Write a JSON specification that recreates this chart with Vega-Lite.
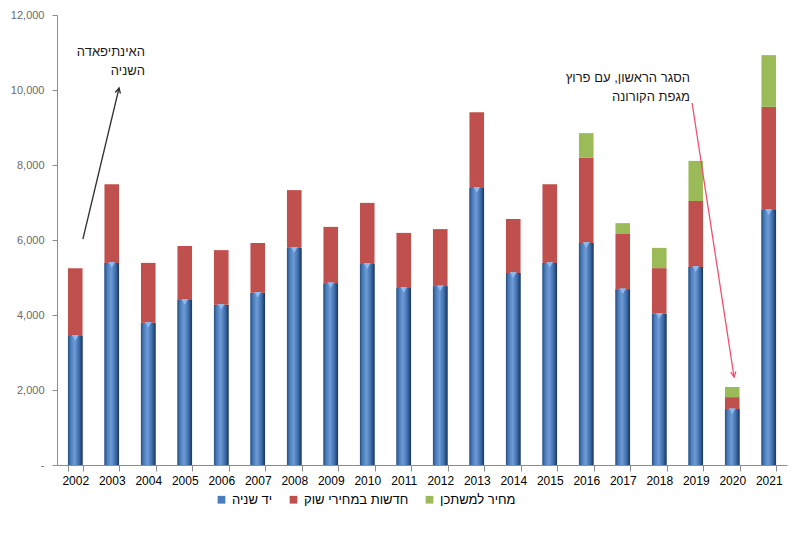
{
  "$schema": "https://vega.github.io/schema/vega-lite/v6.json",
  "width": 730,
  "height": 450,
  "autosize": {"type": "none"},
  "padding": {"left": 57, "top": 15, "right": 13, "bottom": 68},
  "background": "white",
  "config": {
    "view": {"stroke": null},
    "font": "Liberation Sans"
  },
  "datasets": {
    "bars": [
      {"year": "2002", "series": "יד שניה", "o": 1, "value": 3440},
      {"year": "2002", "series": "חדשות במחירי שוק", "o": 2, "value": 1810},
      {"year": "2003", "series": "יד שניה", "o": 1, "value": 5390},
      {"year": "2003", "series": "חדשות במחירי שוק", "o": 2, "value": 2100},
      {"year": "2004", "series": "יד שניה", "o": 1, "value": 3790},
      {"year": "2004", "series": "חדשות במחירי שוק", "o": 2, "value": 1600},
      {"year": "2005", "series": "יד שניה", "o": 1, "value": 4400},
      {"year": "2005", "series": "חדשות במחירי שוק", "o": 2, "value": 1440},
      {"year": "2006", "series": "יד שניה", "o": 1, "value": 4270},
      {"year": "2006", "series": "חדשות במחירי שוק", "o": 2, "value": 1460},
      {"year": "2007", "series": "יד שניה", "o": 1, "value": 4590},
      {"year": "2007", "series": "חדשות במחירי שוק", "o": 2, "value": 1330},
      {"year": "2008", "series": "יד שניה", "o": 1, "value": 5790},
      {"year": "2008", "series": "חדשות במחירי שוק", "o": 2, "value": 1540},
      {"year": "2009", "series": "יד שניה", "o": 1, "value": 4850},
      {"year": "2009", "series": "חדשות במחירי שוק", "o": 2, "value": 1500},
      {"year": "2010", "series": "יד שניה", "o": 1, "value": 5360},
      {"year": "2010", "series": "חדשות במחירי שוק", "o": 2, "value": 1630},
      {"year": "2011", "series": "יד שניה", "o": 1, "value": 4720},
      {"year": "2011", "series": "חדשות במחירי שוק", "o": 2, "value": 1470},
      {"year": "2012", "series": "יד שניה", "o": 1, "value": 4770},
      {"year": "2012", "series": "חדשות במחירי שוק", "o": 2, "value": 1520},
      {"year": "2013", "series": "יד שניה", "o": 1, "value": 7390},
      {"year": "2013", "series": "חדשות במחירי שוק", "o": 2, "value": 2020},
      {"year": "2014", "series": "יד שניה", "o": 1, "value": 5120},
      {"year": "2014", "series": "חדשות במחירי שוק", "o": 2, "value": 1440},
      {"year": "2015", "series": "יד שניה", "o": 1, "value": 5390},
      {"year": "2015", "series": "חדשות במחירי שוק", "o": 2, "value": 2100},
      {"year": "2016", "series": "יד שניה", "o": 1, "value": 5920},
      {"year": "2016", "series": "חדשות במחירי שוק", "o": 2, "value": 2270},
      {"year": "2016", "series": "מחיר למשתכן", "o": 3, "value": 660},
      {"year": "2017", "series": "יד שניה", "o": 1, "value": 4690},
      {"year": "2017", "series": "חדשות במחירי שוק", "o": 2, "value": 1470},
      {"year": "2017", "series": "מחיר למשתכן", "o": 3, "value": 290},
      {"year": "2018", "series": "יד שניה", "o": 1, "value": 4030},
      {"year": "2018", "series": "חדשות במחירי שוק", "o": 2, "value": 1220},
      {"year": "2018", "series": "מחיר למשתכן", "o": 3, "value": 540},
      {"year": "2019", "series": "יד שניה", "o": 1, "value": 5280},
      {"year": "2019", "series": "חדשות במחירי שוק", "o": 2, "value": 1760},
      {"year": "2019", "series": "מחיר למשתכן", "o": 3, "value": 1070},
      {"year": "2020", "series": "יד שניה", "o": 1, "value": 1490},
      {"year": "2020", "series": "חדשות במחירי שוק", "o": 2, "value": 320},
      {"year": "2020", "series": "מחיר למשתכן", "o": 3, "value": 270},
      {"year": "2021", "series": "יד שניה", "o": 1, "value": 6800},
      {"year": "2021", "series": "חדשות במחירי שוק", "o": 2, "value": 2750},
      {"year": "2021", "series": "מחיר למשתכן", "o": 3, "value": 1380}
    ],
    "notes": [
      {"nx": 2003.91, "ny": 11010, "label": "האינתיפאדה\nהשניה"},
      {"nx": 2018.84, "ny": 10320, "label": "הסגר הראשון, עם פרוץ\nמגפת הקורונה"}
    ],
    "arrows": [
      {"id": "a", "x1": 2002.21, "y1": 6027, "x2": 2003.2, "y2": 10053, "c": "#303030", "ang": 13.4},
      {"id": "b", "x1": 2018.9, "y1": 9653, "x2": 2020.05, "y2": 2347, "c": "#f0506e", "ang": 171.3}
    ]
  },
  "layer": [
    {
      "layer": [
        {
          "data": {"name": "bars"},
          "mark": {"type": "bar"},
          "encoding": {
            "x": {
              "field": "year", "type": "ordinal",
              "scale": {"paddingInner": 0.6, "paddingOuter": 0.3},
              "axis": {
                "title": null, "labelAngle": 0, "tickBand": "extent",
                "domainColor": "#8c8c8c", "tickColor": "#8c8c8c", "tickSize": 6,
                "labelFontSize": 12, "labelColor": "#000000", "labelPadding": 4,
                "labelFont": "Liberation Sans"
              }
            },
            "y": {
              "field": "value", "type": "quantitative", "stack": "zero",
              "scale": {"domain": [0, 12000], "nice": false},
              "axis": {
                "title": null, "grid": false, "values": [0, 2000, 4000, 6000, 8000, 10000, 12000],
                "labelExpr": "datum.value == 0 ? '-' : format(datum.value, ',')",
                "domainColor": "#8c8c8c", "tickColor": "#8c8c8c", "tickSize": 5,
                "labelColor": "#6a6a6a", "labelFontSize": 11, "labelPadding": 8
              }
            },
            "color": {
              "field": "series", "type": "nominal",
              "scale": {
                "domain": ["יד שניה", "חדשות במחירי שוק", "מחיר למשתכן"],
                "range": ["#4a7ebb", "#c0504d", "#9bbb59"]
              },
              "legend": {
                "title": null, "orient": "none", "direction": "horizontal",
                "legendX": 158, "legendY": 478,
                "symbolType": "square", "symbolSize": 60, "symbolStrokeWidth": 0,
                "labelFontSize": 13, "labelColor": "#000000", "columnPadding": 14,
                "labelOffset": 4
              }
            },
            "order": {"field": "o", "type": "quantitative"}
          }
        },
        {
          "data": {"name": "bars"},
          "transform": [{"filter": "datum.o == 1"}],
          "mark": {
            "type": "bar",
            "fill": {
              "gradient": "linear", "x1": 0, "x2": 1, "y1": 0, "y2": 0,
              "stops": [
                {"offset": 0, "color": "#2b4f80"},
                {"offset": 0.2, "color": "#4a7ebb"},
                {"offset": 0.45, "color": "#6f9bd6"},
                {"offset": 0.75, "color": "#3f6fae"},
                {"offset": 1, "color": "#1c3557"}
              ]
            }
          },
          "encoding": {
            "x": {"field": "year", "type": "ordinal"},
            "y": {"field": "value", "type": "quantitative"}
          }
        },
        {
          "data": {"name": "bars"},
          "transform": [{"filter": "datum.o == 1"}],
          "mark": {"type": "point", "shape": "triangle-down", "filled": true, "color": "#8fb8ec", "size": 45, "yOffset": 2, "opacity": 1},
          "encoding": {
            "x": {"field": "year", "type": "ordinal"},
            "y": {"field": "value", "type": "quantitative"}
          }
        }
      ]
    },
    {
      "layer": [
        {
          "data": {"name": "arrows"},
          "mark": {"type": "rule", "strokeWidth": 1.3},
          "encoding": {
            "x": {"field": "x1", "type": "quantitative", "scale": {"domain": [2001.5, 2021.5], "nice": false, "zero": false}, "axis": null},
            "x2": {"field": "x2"},
            "y": {"field": "y1", "type": "quantitative"},
            "y2": {"field": "y2"},
            "color": {"field": "c", "type": "nominal", "scale": null, "legend": null}
          }
        },
        {
          "data": {"name": "arrows"},
          "mark": {"type": "point", "shape": "M-0.5,1L0,0L0.5,1", "filled": false, "size": 110, "strokeWidth": 1.3, "opacity": 1},
          "encoding": {
            "x": {"field": "x2", "type": "quantitative"},
            "y": {"field": "y2", "type": "quantitative"},
            "stroke": {"field": "c", "type": "nominal", "scale": null, "legend": null},
            "angle": {"field": "ang", "type": "quantitative", "scale": null}
          }
        },
        {
          "data": {"name": "notes"},
          "mark": {"type": "text", "align": "right", "baseline": "middle", "lineBreak": "\n", "lineHeight": 19, "fontSize": 13, "color": "#1a1a1a", "font": "Liberation Sans"},
          "encoding": {
            "x": {"field": "nx", "type": "quantitative"},
            "y": {"field": "ny", "type": "quantitative"},
            "text": {"field": "label"}
          }
        }
      ]
    }
  ],
  "resolve": {"scale": {"x": "independent", "color": "independent", "stroke": "independent"}}
}
